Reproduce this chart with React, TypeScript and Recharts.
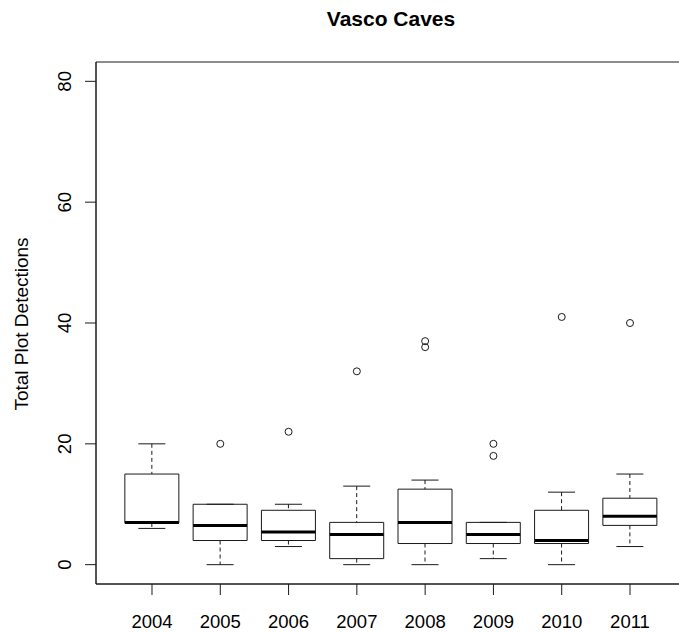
import { ComposedChart, Bar, Scatter, XAxis, YAxis, ReferenceArea, Label } from "recharts";

const years = ["2004", "2005", "2006", "2007", "2008", "2009", "2010", "2011"];
const mins = [6, 0, 3, 0, 0, 1, 0, 3];
const q1s = [6.9, 4, 4, 1, 3.5, 3.5, 3.5, 6.5];
const medians = [7, 6.5, 5.4, 5, 7, 5, 4, 8];
const q3s = [15, 10, 9, 7, 12.5, 7, 9, 11];
const maxes = [20, 10, 10, 13, 14, 7, 12, 15];
const outlierYear = [2, 3, 4, 5, 5, 6, 6, 7, 8];
const outlierValue = [20, 22, 32, 37, 36, 20, 18, 41, 40];
const yTicks = [0, 20, 40, 60, 80];

const boxes = years.map((y, i) => ({
  x: i + 1,
  year: y,
  base: mins[i],
  lowW: q1s[i] - mins[i],
  lowBox: medians[i] - q1s[i],
  upBox: q3s[i] - medians[i],
  upW: maxes[i] - q3s[i],
}));
const outliers = outlierYear.map((x, i) => ({ x, y: outlierValue[i] }));

const FONT = "'Liberation Sans', Arial, sans-serif";
const INK = "#1a1a1a";

const Empty = () => <g />;

const LowWhisker = (p: any) => {
  const cx = p.x + p.width / 2;
  return (
    <g>
      <line x1={cx} x2={cx} y1={p.y} y2={p.y + p.height} stroke={INK} strokeDasharray="4 3" />
      <line x1={p.x + p.width / 4} x2={p.x + (3 * p.width) / 4} y1={p.y + p.height} y2={p.y + p.height} stroke={INK} />
    </g>
  );
};

const LowBox = (p: any) => {
  const b = p.y + p.height;
  return (
    <g>
      <line x1={p.x} x2={p.x} y1={p.y} y2={b} stroke={INK} />
      <line x1={p.x + p.width} x2={p.x + p.width} y1={p.y} y2={b} stroke={INK} />
      <line x1={p.x} x2={p.x + p.width} y1={b} y2={b} stroke={INK} />
    </g>
  );
};

const UpBox = (p: any) => {
  const b = p.y + p.height;
  return (
    <g>
      <line x1={p.x} x2={p.x} y1={p.y} y2={b} stroke={INK} />
      <line x1={p.x + p.width} x2={p.x + p.width} y1={p.y} y2={b} stroke={INK} />
      <line x1={p.x} x2={p.x + p.width} y1={p.y} y2={p.y} stroke={INK} />
      <line x1={p.x} x2={p.x + p.width} y1={b} y2={b} stroke="#000" strokeWidth={3} />
    </g>
  );
};

const UpWhisker = (p: any) => {
  const cx = p.x + p.width / 2;
  return (
    <g>
      <line x1={cx} x2={cx} y1={p.y} y2={p.y + p.height} stroke={INK} strokeDasharray="4 3" />
      <line x1={p.x + p.width / 4} x2={p.x + (3 * p.width) / 4} y1={p.y} y2={p.y} stroke={INK} />
    </g>
  );
};

const Dot = (p: any) => <circle cx={p.cx} cy={p.cy} r={3.5} fill="none" stroke={INK} />;

const XTick = (p: any) => (
  <text x={p.x} y={628} textAnchor="middle" fontSize={18.5} fontFamily={FONT} fill="#000">
    {years[p.payload.value - 1]}
  </text>
);

const YTick = (p: any) => {
  const y = p.y;
  return (
    <text
      x={64.5}
      y={y}
      dy="0.35em"
      transform={`rotate(-90, 64.5, ${y})`}
      textAnchor="middle"
      fontSize={18.5}
      fontFamily={FONT}
      fill="#000"
    >
      {p.payload.value}
    </text>
  );
};

export default function App() {
  return (
    <div style={{ position: "absolute", left: 0, top: 0, width: 679, height: 632, overflow: "hidden", background: "#fff" }}>
      <div
        style={{
          position: "absolute",
          left: 0,
          width: 782,
          top: 7,
          textAlign: "center",
          fontFamily: FONT,
          fontWeight: "bold",
          fontSize: 21,
          color: "#000",
        }}
      >
        Vasco Caves
      </div>
      <ComposedChart
        width={700}
        height={632}
        data={boxes}
        margin={{ top: 62, right: 14, bottom: 0, left: 0 }}
        style={{ position: "absolute", left: 0, top: 0 }}
      >
        <XAxis
          type="number"
          dataKey="x"
          domain={[0.18, 8.82]}
          ticks={[1, 2, 3, 4, 5, 6, 7, 8]}
          height={48}
          tickSize={11}
          tick={<XTick />}
          stroke={INK}
          allowDataOverflow
        />
        <YAxis
          type="number"
          domain={[-3.2, 83.2]}
          ticks={yTicks}
          width={96}
          tickSize={11}
          tick={<YTick />}
          stroke={INK}
          allowDataOverflow
        >
          <Label
            content={() => (
              <text
                x={21}
                y={324}
                dy="0.35em"
                transform="rotate(-90, 21, 324)"
                textAnchor="middle"
                fontSize={19}
                fontFamily={FONT}
                fill="#000"
              >
                Total Plot Detections
              </text>
            )}
          />
        </YAxis>
        <ReferenceArea x1={0.18} x2={8.82} y1={-3.2} y2={83.2} fill="none" stroke={INK} strokeWidth={1} />
        <Bar dataKey="base" stackId="b" barSize={54} shape={<Empty />} isAnimationActive={false} />
        <Bar dataKey="lowW" stackId="b" barSize={54} shape={<LowWhisker />} isAnimationActive={false} />
        <Bar dataKey="lowBox" stackId="b" barSize={54} shape={<LowBox />} isAnimationActive={false} />
        <Bar dataKey="upBox" stackId="b" barSize={54} shape={<UpBox />} isAnimationActive={false} />
        <Bar dataKey="upW" stackId="b" barSize={54} shape={<UpWhisker />} isAnimationActive={false} />
        <Scatter data={outliers} dataKey="y" shape={<Dot />} isAnimationActive={false} />
      </ComposedChart>
    </div>
  );
}
